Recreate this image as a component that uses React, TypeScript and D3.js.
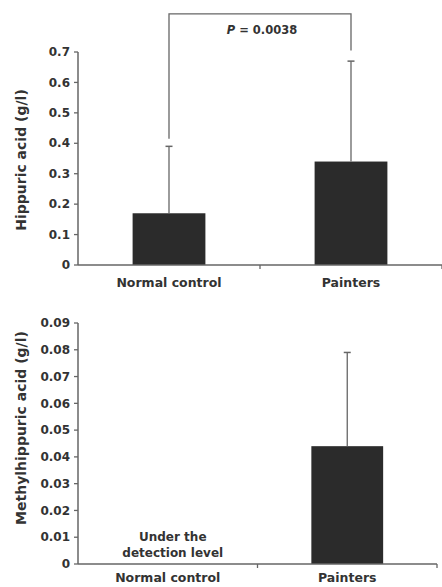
import React from 'react';
import * as d3 from 'd3';

// data
const categories = ['Normal control', 'Painters'];
const hippuricMean = [0.17, 0.34];
const hippuricSD = [0.22, 0.33];
const hippuricTicks = [0, 0.1, 0.2, 0.3, 0.4, 0.5, 0.6, 0.7];
const pValueLabel = 'P = 0.0038';
const bracketLevel = 0.825;

const methylMean = [null, 0.044];
const methylSD = [null, 0.035];
const methylTicks = [0, 0.01, 0.02, 0.03, 0.04, 0.05, 0.06, 0.07, 0.08, 0.09];
const belowDetection = ['Under the', 'detection level'];

const W = 442;
const H = 587;
const FONT = '"DejaVu Sans", sans-serif';
const TEXT = '#333';
const LINE = '#666';
const BAR = '#2b2b2b';

type PanelProps = {
  means: (number | null)[];
  sds: (number | null)[];
  ticks: number[];
  yMax: number;
  top: number;
  bottom: number;
  xEnd: number;
  label: string;
  labelY: number;
  catOffset: number;
  fmt: (d: number) => string;
  children?: (x: d3.ScaleBand<string>, y: d3.ScaleLinear<number, number>) => React.ReactNode;
};

const Panel = ({ means, sds, ticks, yMax, top, bottom, xEnd, label, labelY, catOffset, fmt, children }: PanelProps) => {
  const left = 78;
  const x = d3.scaleBand<string>().domain(categories).range([left, xEnd]);
  const y = d3.scaleLinear().domain([0, yMax]).range([bottom, top]);
  const bw = x.bandwidth() * 0.4;
  const bounds = [left, ...categories.map(c => (x(c) as number) + x.bandwidth())];

  return (
    <g>
      {/* bars */}
      {categories.map((c, i) => {
        const m = means[i];
        if (m == null) return null;
        const cx = (x(c) as number) + x.bandwidth() / 2;
        const topErr = m + (sds[i] as number);
        return (
          <g key={c}>
            <rect x={cx - bw / 2} y={y(m)} width={bw} height={y(0) - y(m)} fill={BAR} />
            <line x1={cx} x2={cx} y1={y(m)} y2={y(topErr)} stroke={LINE} strokeWidth={1.3} />
            <line x1={cx - 3.5} x2={cx + 3.5} y1={y(topErr)} y2={y(topErr)} stroke={LINE} strokeWidth={1.5} />
          </g>
        );
      })}

      {/* y axis */}
      <line x1={left} x2={left} y1={y(yMax)} y2={y(0)} stroke={LINE} strokeWidth={1.5} />
      {ticks.map(t => (
        <g key={t} transform={`translate(0,${y(t)})`}>
          <line x1={left - 4} x2={left} stroke={LINE} strokeWidth={1.3} />
          <text x={left - 8} dy="0.35em" textAnchor="end" fontSize={12} fontWeight="bold"
            fontFamily={FONT} fill={TEXT}>{fmt(t)}</text>
        </g>
      ))}

      {/* x axis */}
      <line x1={left} x2={xEnd} y1={y(0)} y2={y(0)} stroke={LINE} strokeWidth={1.5} />
      {bounds.slice(1).map((b, i) => (
        <line key={i} x1={b} x2={b} y1={y(0)} y2={y(0) + 4} stroke={LINE} strokeWidth={1.3} />
      ))}
      {categories.map(c => (
        <text key={c} x={(x(c) as number) + x.bandwidth() / 2} y={y(0) + catOffset} textAnchor="middle"
          fontSize={12.5} fontWeight="bold" fontFamily={FONT} fill={TEXT}>{c}</text>
      ))}

      {/* y label */}
      <text transform={`translate(21,${labelY}) rotate(-90)`} textAnchor="middle" dy="0.35em"
        fontSize={14} fontWeight="bold" fontFamily={FONT} fill={TEXT}>{label}</text>

      {children && children(x, y)}
    </g>
  );
};

export default function App() {
  return (
    <svg width={W} height={H} style={{ position: 'absolute', left: 0, top: 0, background: '#fff' }}>
      <rect width={W} height={H} fill="#fff" />
      <Panel means={hippuricMean} sds={hippuricSD} ticks={hippuricTicks} yMax={0.7}
        top={52} bottom={265} xEnd={442} label="Hippuric acid (g/l)" labelY={160} catOffset={22}
        fmt={d => (d === 0 ? '0' : d3.format('.1f')(d))}>
        {(x, y) => {
          const c0 = (x(categories[0]) as number) + x.bandwidth() / 2;
          const c1 = (x(categories[1]) as number) + x.bandwidth() / 2;
          const e0 = hippuricMean[0] + hippuricSD[0] + 0.025;
          const e1 = hippuricMean[1] + hippuricSD[1] + 0.035;
          const path = d3.path();
          path.moveTo(c0, y(e0));
          path.lineTo(c0, y(bracketLevel));
          path.lineTo(c1, y(bracketLevel));
          path.lineTo(c1, y(e1));
          const parts = pValueLabel.split(' ');
          return (
            <g>
              <path d={path.toString()} fill="none" stroke={LINE} strokeWidth={1.3} />
              <text x={(c0 + c1) / 2 + 2} y={y(bracketLevel) + 20} textAnchor="middle" fontSize={11.5}
                fontWeight="bold" fontFamily={FONT} fill={TEXT}>
                <tspan fontStyle="italic">{parts[0]}</tspan>
                <tspan>{' ' + parts.slice(1).join(' ')}</tspan>
              </text>
            </g>
          );
        }}
      </Panel>
      <Panel means={methylMean} sds={methylSD} ticks={methylTicks} yMax={0.09}
        top={323} bottom={564} xEnd={437} label="Methylhippuric acid (g/l)" labelY={428} catOffset={18}
        fmt={d => (d === 0 ? '0' : d3.format('.2f')(d))}>
        {(x, y) => {
          const c0 = (x(categories[0]) as number) + x.bandwidth() / 2 + 5;
          return (
            <text textAnchor="middle" fontSize={12} fontWeight="bold" fontFamily={FONT} fill={TEXT}>
              {belowDetection.map((s, i) => (
                <tspan key={i} x={c0} y={y(0) - 23 + i * 16}>{s}</tspan>
              ))}
            </text>
          );
        }}
      </Panel>
    </svg>
  );
}
